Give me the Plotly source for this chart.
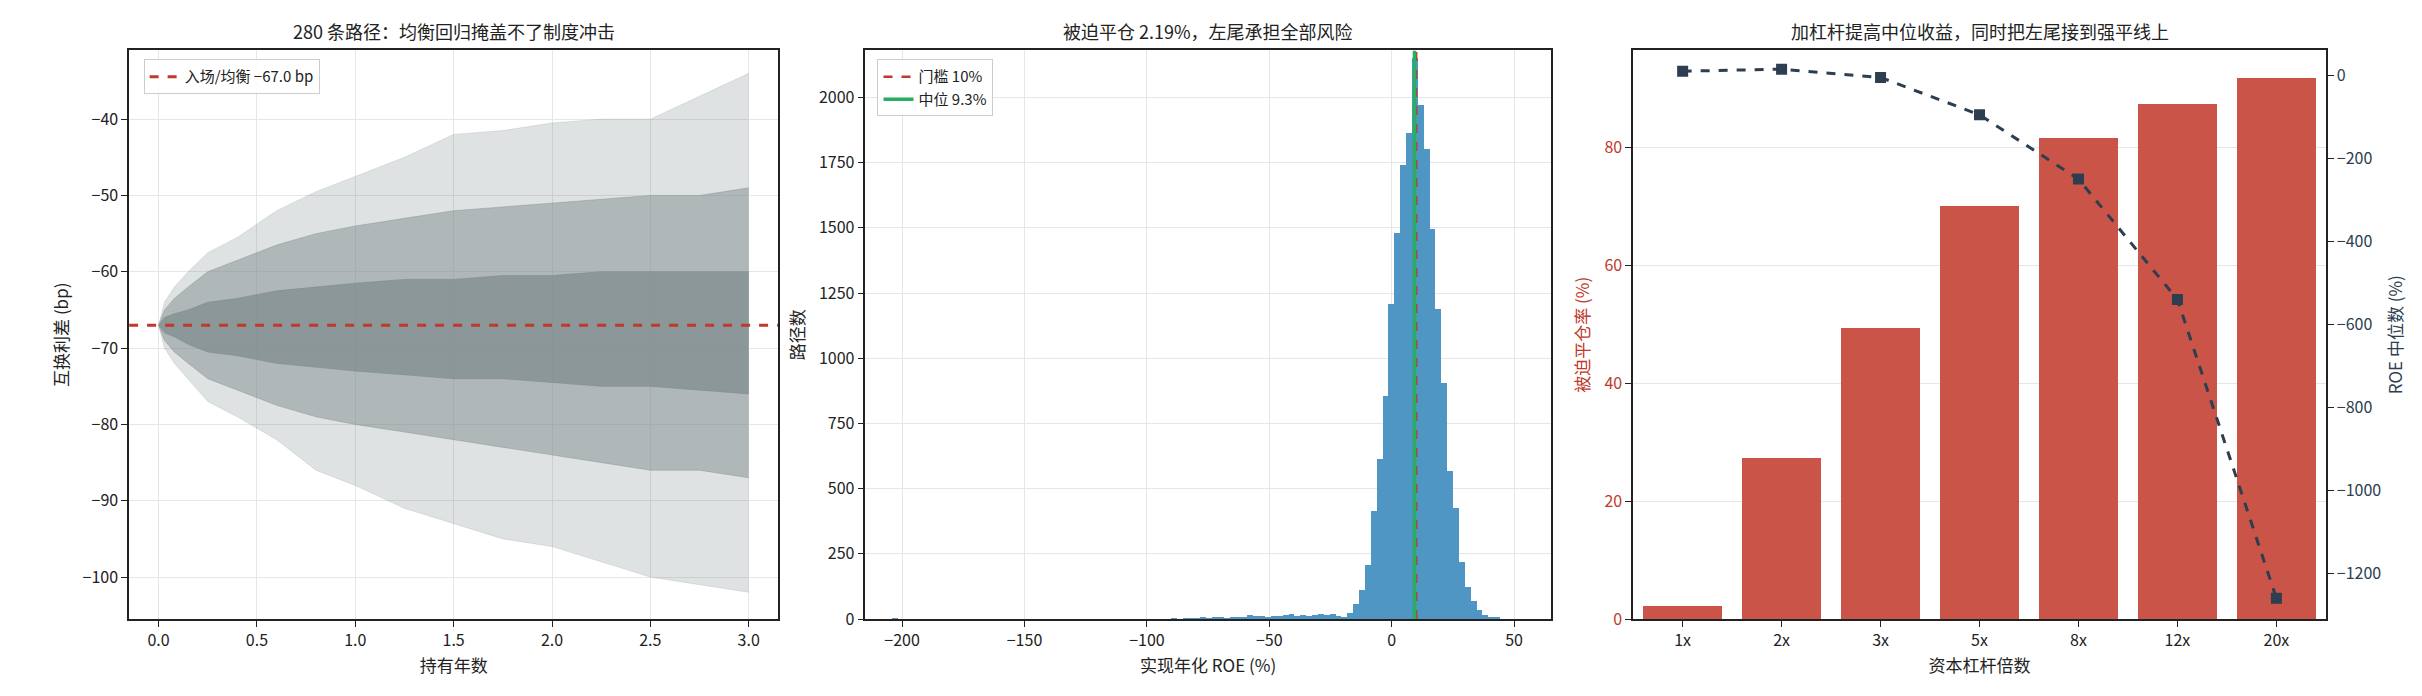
import numpy as np
import plotly.graph_objects as go

# left panel: fan of 280 paths, summarised as bands
t_grid = [0, 0.03, 0.08, 0.15, 0.25, 0.4, 0.6, 0.8, 1.0, 1.25, 1.5, 1.75, 2.0, 2.25, 2.5, 2.75, 3.0]
band_max = [-67, -64, -62, -60, -57.5, -55.5, -52, -49.5, -47.5, -45, -42, -41.5, -40.5, -40, -40, -37, -34]
band_min = [-67, -70, -72, -74, -77, -79, -82, -86, -88, -91, -93, -95, -96, -98, -100, -101, -102]
band_p95 = [-67, -65, -63.5, -62, -60, -58.5, -56.5, -55, -54, -53, -52, -51.5, -51, -50.5, -50, -50, -49]
band_p05 = [-67, -69, -70.5, -72, -74, -75.5, -77.5, -79, -80, -81, -82, -83, -84, -85, -86, -86, -87]
band_p75 = [-67, -66, -65.5, -65, -64, -63.5, -62.5, -62, -61.5, -61, -61, -60.5, -60.5, -60, -60, -60, -60]
band_p25 = [-67, -68, -68.5, -69.5, -70.5, -71, -72, -72.5, -73, -73.5, -74, -74, -74.5, -75, -75, -75.5, -76]
entry_level = -67.0

# middle panel: histogram of realised ROE (bin width 2.4)
bin_width = 2.4
tail_start = -89.96
tail_counts = [1, 0, 2, 1, 2, 3, 2, 3, 5, 2, 4, 6, 5, 12, 8, 9, 7, 8, 10, 12, 18, 10, 12, 11, 15, 16, 14, 17, 9, 6]
core_counts = [20, 54, 108, 205, 413, 612, 852, 1208, 1478, 1740, 1862, 2150, 1968, 1801, 1493,
               1188, 904, 567, 422, 217, 122, 68, 32, 13, 5, 5]
far_left_x = [-202.8]
far_left_counts = [1]
threshold = 10
median_roe = 9.3

# right panel
leverage = ["1x", "2x", "3x", "5x", "8x", "12x", "20x"]
forced_rate = [2.2, 27.3, 49.4, 70.0, 81.5, 87.3, 91.7]
median_roe_lev = [10, 15, -5, -95, -250, -540, -1260]

FONT = "Noto Sans CJK SC, Noto Sans, sans-serif"
fig = go.Figure()

def band(lo, hi, alpha):
    c = f"rgba(127,140,141,{alpha})"
    fig.add_trace(go.Scatter(x=t_grid, y=hi, mode="lines", line=dict(width=0.8, color=c),
                             showlegend=False, xaxis="x", yaxis="y", hoverinfo="skip"))
    fig.add_trace(go.Scatter(x=t_grid, y=lo, mode="lines", line=dict(width=0.8, color=c),
                             fill="tonexty", fillcolor=c,
                             showlegend=False, xaxis="x", yaxis="y", hoverinfo="skip"))

band(band_min, band_max, 0.25)
band(band_p05, band_p95, 0.5)
band(band_p25, band_p75, 0.75)

fig.add_trace(go.Scatter(x=[-0.15, 3.15], y=[entry_level] * 2, mode="lines",
                         line=dict(color="#c0392b", width=3, dash="dash"),
                         name=f"入场/均衡 {entry_level:.1f} bp".replace("-", "−"), legend="legend",
                         xaxis="x", yaxis="y"))

tail_x = [tail_start + bin_width * (i + 0.5) for i in range(len(tail_counts))]
core_start = tail_start + bin_width * len(tail_counts)
core_x = [core_start + bin_width * (i + 0.5) for i in range(len(core_counts))]
fig.add_trace(go.Bar(x=far_left_x + tail_x + core_x, y=far_left_counts + tail_counts + core_counts,
                     width=bin_width, marker=dict(color="#4f96c4", line=dict(width=0)),
                     showlegend=False, xaxis="x2", yaxis="y2"))
fig.add_trace(go.Scatter(x=[threshold] * 2, y=[0, 2180], mode="lines",
                         line=dict(color="#c0392b", width=2.5, dash="dash"),
                         name="门槛 10%", legend="legend2", xaxis="x2", yaxis="y2"))
fig.add_trace(go.Scatter(x=[median_roe] * 2, y=[0, 2180], mode="lines",
                         line=dict(color="#27ae60", width=3.5),
                         name=f"中位 {median_roe}%", legend="legend2", xaxis="x2", yaxis="y2"))

fig.add_trace(go.Bar(x=leverage, y=forced_rate, width=0.8, marker=dict(color="#cb5449", line=dict(width=0)),
                     showlegend=False, xaxis="x3", yaxis="y3"))
fig.add_trace(go.Scatter(x=leverage, y=median_roe_lev, mode="lines+markers",
                         line=dict(color="#2c3e50", width=3, dash="dash"),
                         marker=dict(symbol="square", size=11, color="#2c3e50"),
                         showlegend=False, xaxis="x3", yaxis="y4"))

ax = dict(showline=True, linecolor="#222", linewidth=1.5, mirror=True, ticks="outside", ticklen=6,
          tickcolor="#222", showgrid=True, gridcolor="#e6e6e6", zeroline=False,
          tickfont=dict(size=16, color="#222"), title_font=dict(size=17, color="#222"), title_standoff=10)
yd = [0.108, 0.938]

fig.update_layout(
    width=2422, height=696, margin=dict(l=0, r=0, t=0, b=0),
    paper_bgcolor="white", plot_bgcolor="white", font=dict(family=FONT, color="#222"),
    bargap=0,
    xaxis=dict(ax, domain=[0.050, 0.318], range=[-0.15, 3.15], tickvals=[0, 0.5, 1, 1.5, 2, 2.5, 3],
               ticktext=["0.0", "0.5", "1.0", "1.5", "2.0", "2.5", "3.0"], title_text="持有年数"),
    yaxis=dict(ax, domain=yd, range=[-105.5, -31], tickvals=[-100, -90, -80, -70, -60, -50, -40],
               ticktext=["−100", "−90", "−80", "−70", "−60", "−50", "−40"], title_text="互换利差 (bp)"),
    xaxis2=dict(ax, domain=[0.354, 0.637], range=[-215, 65], tickvals=[-200, -150, -100, -50, 0, 50],
                ticktext=["−200", "−150", "−100", "−50", "0", "50"], title_text="实现年化 ROE (%)", anchor="y2"),
    yaxis2=dict(ax, domain=yd, range=[0, 2180], dtick=250, title_text="路径数", anchor="x2"),
    xaxis3=dict(ax, domain=[0.671, 0.957], showgrid=False, title_text="资本杠杆倍数", anchor="y3"),
    yaxis3=dict(ax, domain=yd, range=[0, 96.5], dtick=20, mirror=False, title_text="被迫平仓率 (%)",
                tickfont=dict(size=16, color="#c0392b"), title_font=dict(size=17, color="#c0392b"), anchor="x3"),
    yaxis4=dict(ax, overlaying="y3", side="right", range=[-1310, 60], showgrid=False, mirror=False,
                tickvals=[-1200, -1000, -800, -600, -400, -200, 0],
                ticktext=["−1200", "−1000", "−800", "−600", "−400", "−200", "0"],
                title_text="ROE 中位数 (%)", tickfont=dict(size=16, color="#2c3e50"),
                title_font=dict(size=17, color="#2c3e50"), anchor="x3"),
    legend=dict(x=0.056, y=0.925, xanchor="left", yanchor="top", bgcolor="rgba(255,255,255,0.85)",
                bordercolor="#ccc", borderwidth=1, font=dict(size=15)),
    legend2=dict(x=0.359, y=0.925, xanchor="left", yanchor="top", bgcolor="rgba(255,255,255,0.85)",
                 bordercolor="#ccc", borderwidth=1, font=dict(size=15)),
    annotations=[
        dict(text="280 条路径：均衡回归掩盖不了制度冲击", x=0.184, y=0.945, xref="paper", yref="paper",
             showarrow=False, xanchor="center", yanchor="bottom", font=dict(size=18)),
        dict(text="被迫平仓 2.19%，左尾承担全部风险", x=0.4955, y=0.945, xref="paper", yref="paper",
             showarrow=False, xanchor="center", yanchor="bottom", font=dict(size=18)),
        dict(text="加杠杆提高中位收益，同时把左尾接到强平线上", x=0.814, y=0.945, xref="paper", yref="paper",
             showarrow=False, xanchor="center", yanchor="bottom", font=dict(size=18)),
    ],
)

fig.write_html("out.html")
